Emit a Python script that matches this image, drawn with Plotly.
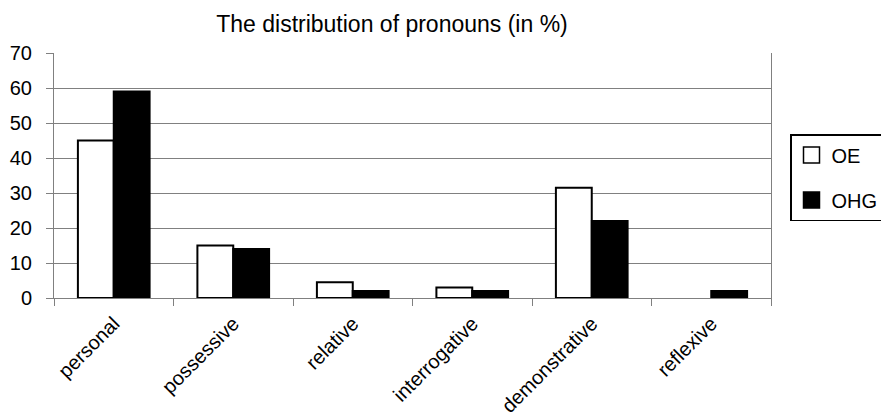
import plotly.graph_objects as go

categories = ["personal", "possessive", "relative", "interrogative", "demonstrative", "reflexive"]
oe_values = [45, 15, 4.5, 3, 31.5, None]
ohg_values = [59, 14, 2, 2, 22, 2]
series_names = ["OE", "OHG"]
series_fill = ["white", "black"]

FONT = "Liberation Sans, Arial, sans-serif"

fig = go.Figure()
for name, vals, fill in zip(series_names, [oe_values, ohg_values], series_fill):
    fig.add_trace(go.Bar(name=name, x=categories, y=vals, showlegend=False,
                         marker=dict(color=fill, line=dict(color="black", width=2))))
# legend entries with larger square swatches
for name, fill in zip(series_names, series_fill):
    fig.add_trace(go.Scatter(name=name, x=[None], y=[None], mode="markers",
                             legendgroup=name,
                             marker=dict(symbol="square", size=16, color=fill,
                                         line=dict(color="black", width=1.5))))

fig.update_layout(
    width=881, height=418,
    margin=dict(l=54, r=110, t=53, b=120, autoexpand=False),
    paper_bgcolor="white", plot_bgcolor="white",
    font=dict(family=FONT, size=18, color="black"),
    barmode="group", bargap=0.4, bargroupgap=0,
    title=dict(text="The distribution of pronouns (in %)", x=392/881, xanchor="center",
               y=1 - 24/418, yanchor="middle", font=dict(size=23)),
    showlegend=True,
    legend=dict(x=(790 - 54) / 717, xanchor="left", y=(298 - 134) / 245, yanchor="top",
                bordercolor="black", borderwidth=1.5, bgcolor="white",
                font=dict(size=20), tracegroupgap=16, itemsizing="trace"),
)
fig.update_yaxes(range=[0, 70], dtick=10, showgrid=True, gridcolor="#808080", gridwidth=1,
                 showline=True, linecolor="#808080", mirror=True,
                 ticks="outside", ticklen=7, tickcolor="#808080",
                 ticklabelstandoff=10,
                 tickfont=dict(size=20), zeroline=False, automargin=False)
fig.update_xaxes(showline=True, linecolor="#808080", tickangle=-45,
                 ticks="outside", tickson="boundaries", ticklen=7, tickcolor="#808080",
                 ticklabelstandoff=5,
                 tickfont=dict(size=20), automargin=False)

fig.write_html("out.html", config={"displayModeBar": False},
               post_script="document.body.style.margin='0';")
